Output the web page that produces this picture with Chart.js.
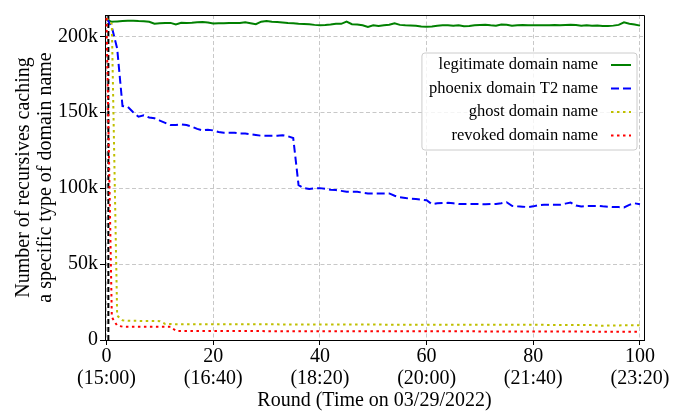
<!DOCTYPE html>
<html>
<head>
<meta charset="utf-8">
<script src="https://cdn.jsdelivr.net/npm/chart.js@4.4.0/dist/chart.umd.min.js"></script>
<style>
  html, body { margin: 0; padding: 0; background: #fff; }
</style>
</head>
<body>
<canvas id="myChart" width="687" height="415"></canvas>
<script>
// Rounds (x) and series values, in thousands of recursives
const rounds = Array.from({ length: 101 }, (_, i) => i);

const legitimate = [
  211, 209.5, 209.8, 210, 210.2, 210.2, 210, 209.9, 209.5, 208.2,
  208.5, 208.8, 208.8, 207.7, 208.9, 208.7, 208.9, 209.2, 209.4, 209,
  208.4, 208.5, 208.6, 208.7, 208.8, 208.8, 209.2, 208.6, 207.9, 209.6,
  210, 209.6, 209.4, 209.1, 208.8, 208.6, 208.3, 208.1, 207.9, 207.5,
  207.2, 207.4, 207.8, 208.3, 208.2, 209.6, 207.9, 207.8, 207.3, 206.2,
  207.2, 206.8, 207.2, 207.6, 208.5, 207.5, 207.2, 207.1, 206.9, 206.5,
  206.2, 206.5, 206.9, 207.2, 207.2, 207, 207.2, 206.6, 206.8, 207.2,
  207.4, 207.6, 207.2, 207, 207.8, 207.6, 207, 207.2, 207.4, 207.2,
  207.2, 207.2, 207.3, 207.2, 207.4, 207.2, 207.4, 207.5, 207.4, 207,
  207.2, 207, 207.1, 206.8, 206.7, 207, 207.5, 209.2, 208.3, 207.8,
  207
];

const phoenix = [
  212, 206, 192, 154, 153.5, 150, 147, 148, 146.5, 146,
  144.5, 143, 141.5, 141.5, 142, 141.5, 140.5, 139, 138, 138.5,
  138, 137, 136.5, 136.5, 136.5, 136, 136, 135.5, 135, 134.5,
  134.5, 134.5, 134.5, 134.8, 134.2, 133, 102, 100, 99.5, 99.8,
  100, 99.5, 99, 98.7, 98.2, 97.6, 97.6, 97.6, 97, 96.5,
  96.5, 96.5, 96.5, 96.5, 95, 94, 93.5, 93, 92.8, 92.5,
  92, 89.5, 90, 90.2, 90.3, 90, 89.5, 89.5, 89.6, 89.6,
  89.5, 89.4, 89.5, 89.6, 90, 90.7, 88.3, 88, 87.8, 87.5,
  88, 88.8, 89, 89, 89, 89, 89.8, 90.5, 88.5, 87.9,
  88.2, 88.3, 88.3, 88, 87.8, 87.5, 87.5, 87.3, 89, 90,
  89.4
];

const ghost = [
  212, 208, 16, 13, 12.7, 12.6, 12.6, 12.5, 12.5, 12.5,
  12.4, 10.6, 10.5, 10.4, 10.4, 10.4, 10.4, 10.4, 10.3, 10.3,
  10.3, 10.3, 10.3, 10.3, 10.3, 10.3, 10.3, 10.3, 10.3, 10.3,
  10.3, 10.3, 10.3, 10.2, 10.2, 10.2, 10.2, 10.2, 10.2, 10.2,
  10.2, 10.2, 10.2, 10.2, 10.2, 10.2, 10.2, 10.2, 10.2, 10.2,
  10.2, 10.2, 10.1, 10.1, 10.1, 10.1, 10.1, 10.1, 10.1, 10.1,
  10.1, 10.1, 10.1, 10, 10, 10, 10, 10, 10, 10,
  10, 10, 10, 10, 10, 10, 10, 10, 10, 10,
  10, 10, 10, 9.9, 9.9, 9.9, 9.9, 9.9, 9.9, 9.9,
  9.8, 9.8, 9.6, 9.4, 9.5, 9.5, 9.6, 9.7, 9.7, 9.7,
  9.7
];

const revoked = [
  212, 15, 9.5, 8.8, 8.8, 8.8, 8.8, 8.8, 8.8, 8.8,
  8.8, 8.8, 8.8, 6, 5.9, 5.9, 5.9, 5.9, 5.9, 5.9,
  5.9, 5.9, 5.9, 5.9, 5.9, 5.9, 5.9, 5.9, 5.9, 5.9,
  5.8, 5.8, 5.8, 5.8, 5.8, 5.8, 5.8, 5.8, 5.8, 5.8,
  5.8, 5.8, 5.8, 5.8, 5.8, 5.8, 5.8, 5.8, 5.8, 5.8,
  5.7, 5.7, 5.7, 5.7, 5.7, 5.7, 5.7, 5.7, 5.7, 5.7,
  5.7, 5.7, 5.7, 5.7, 5.7, 5.7, 5.7, 5.7, 5.7, 5.7,
  5.6, 5.6, 5.6, 5.6, 5.6, 5.6, 5.6, 5.6, 5.6, 5.6,
  5.6, 5.6, 5.6, 5.6, 5.6, 5.6, 5.6, 5.6, 5.6, 5.6,
  5.5, 5.5, 5.5, 5.5, 5.5, 5.5, 5.5, 5.5, 5.5, 5.5,
  5.5
];

// black dashed marker near the start
const cutoffRound = 0.35;
const cutoffSpan = [0, 214];

// Axis ticks
const xTicks = [0, 20, 40, 60, 80, 100];
const xTickTimes = ['(15:00)', '(16:40)', '(18:20)', '(20:00)', '(21:40)', '(23:20)'];
const yTicks = [0, 50, 100, 150, 200];
const yTickLabels = ['0', '50k', '100k', '150k', '200k'];

const serif = "'Liberation Serif', 'Times New Roman', serif";
Chart.defaults.font.family = serif;
Chart.defaults.color = '#000';

function toPoints(values) {
  return values.map((v, i) => ({ x: rounds[i], y: v }));
}

// top/right spines + matplotlib style legend (text left, line sample right)
const frameLegend = {
  id: 'frameLegend',
  afterDatasetsDraw(chart) {
    const { ctx, chartArea: a } = chart;
    ctx.save();
    ctx.strokeStyle = '#000';
    ctx.lineWidth = 1;
    ctx.beginPath();
    ctx.moveTo(Math.floor(a.left) + 0.5, Math.floor(a.top) + 0.5);
    ctx.lineTo(Math.floor(a.right) + 0.5, Math.floor(a.top) + 0.5);
    ctx.lineTo(Math.floor(a.right) + 0.5, Math.floor(a.bottom) + 0.5);
    ctx.stroke();

    const items = chart.data.datasets.filter(d => d.label);
    ctx.font = '16.5px ' + serif;
    const textW = Math.max(...items.map(d => ctx.measureText(d.label).width));
    const rowH = 23.5;
    const right = a.right - 7;
    const top = a.top + 38;
    const textRight = right - 39;
    const left = textRight - textW - 7;
    const bottom = top + 12 + rowH * (items.length - 1) + 14.5;
    const r = 3;

    ctx.beginPath();
    ctx.moveTo(left + r, top);
    ctx.arcTo(right, top, right, bottom, r);
    ctx.arcTo(right, bottom, left, bottom, r);
    ctx.arcTo(left, bottom, left, top, r);
    ctx.arcTo(left, top, right, top, r);
    ctx.closePath();
    ctx.fillStyle = 'rgba(255,255,255,0.8)';
    ctx.fill();
    ctx.strokeStyle = '#cccccc';
    ctx.lineWidth = 1;
    ctx.stroke();

    items.forEach((d, i) => {
      const y = top + 12 + i * rowH;
      ctx.fillStyle = '#000';
      ctx.textAlign = 'right';
      ctx.textBaseline = 'middle';
      ctx.fillText(d.label, textRight, y);
      ctx.beginPath();
      ctx.setLineDash(d.borderDash || []);
      ctx.strokeStyle = d.borderColor;
      ctx.lineWidth = d.borderWidth;
      ctx.moveTo(right - 26, y);
      ctx.lineTo(right - 6, y);
      ctx.stroke();
    });
    ctx.restore();
  }
};

const ctx = document.getElementById('myChart');
const myChart = new Chart(ctx, {
  type: 'line',
  data: {
    datasets: [
      {
        label: 'legitimate domain name',
        data: toPoints(legitimate),
        borderColor: '#008000',
        borderWidth: 2,
        order: 4,
      },
      {
        label: 'phoenix domain T2 name',
        data: toPoints(phoenix),
        borderColor: '#0000ff',
        borderWidth: 2,
        borderDash: [8, 4],
        order: 3,
      },
      {
        label: 'ghost domain name',
        data: toPoints(ghost),
        borderColor: '#bfbf00',
        borderWidth: 2,
        borderDash: [2.5, 3.5],
        order: 2,
      },
      {
        label: 'revoked domain name',
        data: toPoints(revoked),
        borderColor: '#ff0000',
        borderWidth: 2,
        borderDash: [2.5, 3.5],
        order: 1,
      },
      {
        label: '',
        data: cutoffSpan.map(v => ({ x: cutoffRound, y: v })),
        borderColor: '#000',
        borderWidth: 2,
        borderDash: [5, 3],
        order: 5,
      },
    ],
  },
  options: {
    responsive: false,
    animation: false,
    elements: {
      point: { radius: 0 },
      line: { tension: 0 },
    },
    layout: { padding: { left: 0, top: 15, right: 43, bottom: 0 } },
    plugins: {
      legend: { display: false },
      tooltip: { enabled: false },
    },
    scales: {
      x: {
        type: 'linear',
        min: -0.28,
        max: 100.75,
        afterBuildTicks: s => { s.ticks = xTicks.map(v => ({ value: v })); },
        afterFit: s => { s.height = 75; },
        grid: { color: '#c8c8c8', tickColor: '#000', tickLength: 5, tickWidth: 1 },
        border: { display: true, color: '#000', width: 1, dash: [4, 2.5] },
        ticks: {
          font: { size: 20, lineHeight: 1.1 },
          padding: 1,
          maxRotation: 0,
          autoSkip: false,
          callback: v => [String(v), xTickTimes[xTicks.indexOf(v)]],
        },
        title: {
          display: true,
          text: 'Round (Time on 03/29/2022)',
          font: { size: 20, lineHeight: 1.1 },
          padding: { top: 0, bottom: 3 },
        },
      },
      y: {
        min: 0,
        max: 214,
        afterBuildTicks: s => { s.ticks = yTicks.map(v => ({ value: v })); },
        afterFit: s => { s.width = 105; },
        grid: { color: '#c8c8c8', tickColor: '#000', tickLength: 5, tickWidth: 1 },
        border: { display: true, color: '#000', width: 1, dash: [4, 2.5] },
        ticks: {
          font: { size: 20 },
          padding: 2,
          callback: v => yTickLabels[yTicks.indexOf(v)],
        },
        title: {
          display: true,
          text: ['Number of recursives caching', 'a specific type of domain name'],
          font: { size: 20, lineHeight: 1.1 },
          padding: { top: 13, bottom: 0 },
        },
      },
    },
  },
  plugins: [frameLegend],
});
</script>
</body>
</html>
